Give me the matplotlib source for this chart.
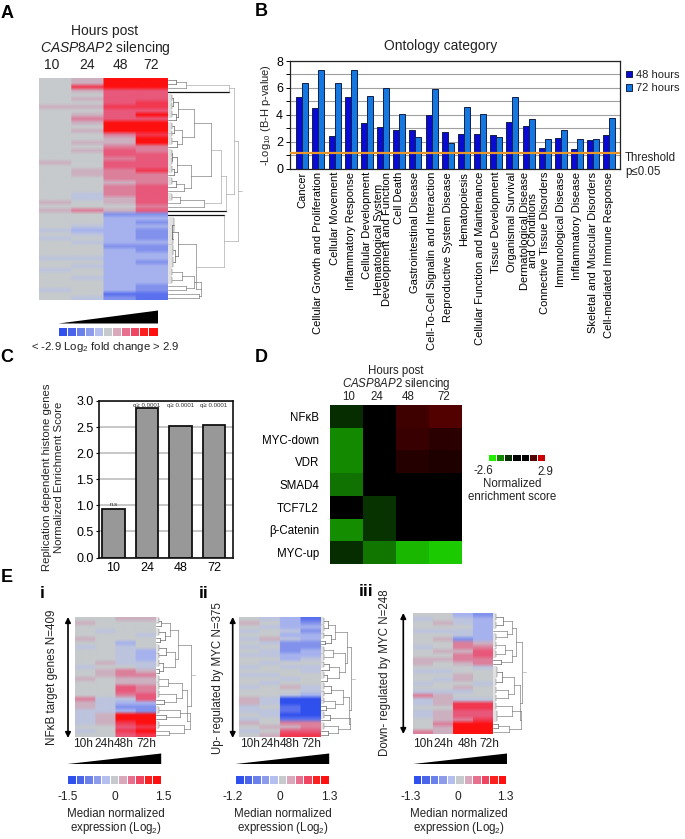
import numpy as np
import matplotlib
matplotlib.use('Agg')
import matplotlib.pyplot as plt
from matplotlib.colors import ListedColormap, LinearSegmentedColormap, TwoSlopeNorm

plt.rcParams['font.family'] = ['Liberation Sans', 'DejaVu Sans']
plt.rcParams['mathtext.fontset'] = 'custom'
plt.rcParams['mathtext.rm'] = 'Liberation Sans'
plt.rcParams['mathtext.it'] = 'Liberation Sans:italic'
plt.rcParams['text.color'] = '#222222'

W, H = 685, 839

# colour levels, -5 (blue) to 5 (red): first the keys, then the softer heatmap cells
key_colors = ['#3050ee', '#4a64ea', '#6a80ea', '#8c9cea', '#b4bfee', '#c6cacc',
              '#d9a8ba', '#e8708f', '#f04560', '#fa2020', '#ff1010']
cell_colors = ['#3050ee', '#5a70ee', '#8292ec', '#a6b2ee', '#bcc4de', '#c6cacc',
               '#ccb0c0', '#dc7f9b', '#e8587a', '#f23850', '#fe1010']
levels = list(range(-5, 6))

# panel A rows
a10 = [0, 0, 0, 0, 0, 0, 0, 1, 0, 0,
       0, 0, 0, 0, 0, 0, 0, 0, 0, 0,
       0, 1, 0, 0, 0, 0, 0, 0, 0, 0,
       0, 1, 0, 1, 0, 0, 0, 0, -1, 0,
       -1, 0, 0, 0, 0, -1, 0, 0, -1, 0,
       0, 0, 0, -1, 0, 0]
a24 = [1, 1, 4, 1, 0, 1, 0, 1, 0, 1,
       2, 1, 0, 1, 0, 0, 1, 0, 1, 0,
       0, 0, 0, 1, 1, 0, 0, 0, 0, -1,
       -1, 0, 0, 2, 0, 0, 0, -1, -2, -1,
       0, -1, 0, 0, 0, -1, 0, -1, 0, 0,
       -1, 0, 0, 0, 0, -1]
a48 = [5, 5, 5, 3, 3, 3, 3, 4, 3, 3,
       3, 5, 5, 5, 2, 1, 1, 2, 3, 3,
       2, 3, 3, 2, 2, 2, 1, 2, 2, 2,
       1, 1, 0, 1, -3, -2, -2, -2, -2, -2,
       -2, -2, -3, -2, -2, -2, -2, -2, -2, -2,
       -2, -2, -2, -2, -4, -3]
a72 = [5, 5, 5, 3, 3, 3, 4, 4, 3, 5,
       3, 5, 5, 5, 4, 5, 5, 2, 2, 3,
       3, 3, 3, 4, 2, 2, 2, 3, 3, 3,
       3, 3, 2, 3, -3, -2, -3, -2, -3, -3,
       -3, -2, -3, -3, -2, -2, -3, -2, -2, -2,
       -2, -2, -3, -3, -4, -4]

# dendrograms: (height in px, child, child), a bare int is a leaf spanning that many rows
tree_a = (70,
          (66,
           (61, (18, (8, 1, 1), 1), 1),
           (58,
            (53,
             (43,
              (26, (10, (5, 2, 2), (8, 2, 1)), (14, (6, 2, 2), (9, 2, 1))),
              (23, (9, (4, 2, 2), (6, 2, 1)), (16, (8, 2, 1), 1))),
             (36, (12, 2, 1), 1)),
            1)),
          (56,
           1,
           (28,
            (10, (4, 4, 3), (7, 3, 3)),
            (33, (26, (14, 2, 2), (18, 1, 1)), (31, 1, 1)))))

# panel B
categories = ['Cancer', 'Cellular Growth and Proliferation', 'Cellular Movement',
              'Inflammatory Response', 'Cellular Development',
              'Hematological System\nDevelopment and Function', 'Cell Death',
              'Gastrointestinal Disease', 'Cell-To-Cell Signalin and Interaction',
              'Reproductive System Disease', 'Hematopoiesis',
              'Cellular Function and Maintenance', 'Tissue Development',
              'Organismal Survival', 'Dermatological Disease\nand Conditions',
              'Connective Tissue Disorders', 'Immunological Disease',
              'Inflammatory Disease', 'Skeletal and Muscular Disorders',
              'Cell-mediated Immune Response']
p48 = [5.3, 4.5, 2.45, 5.3, 3.4, 3.1, 2.85, 2.85, 3.95, 2.7,
       2.6, 2.6, 2.5, 3.45, 3.2, 1.55, 2.3, 1.45, 2.15, 2.5]
p72 = [6.4, 7.3, 6.4, 7.3, 5.4, 6.0, 4.05, 2.35, 5.9, 1.9,
       4.55, 4.05, 2.35, 5.3, 3.65, 2.2, 2.9, 2.2, 2.2, 3.75]
threshold = 1.15

# panel C
c_hours = ['10', '24', '48', '72']
c_scores = [0.93, 2.86, 2.52, 2.54]
c_notes = ['n.s', 'q≥ 0.0001', 'q≥ 0.0001', 'q≥ 0.0001']

# panel D
d_rows = ['NFκB', 'MYC-down', 'VDR', 'SMAD4', 'TCF7L2', 'β-Catenin', 'MYC-up']
d_scores = [[-0.5, 0, 0.9, 1.2],
            [-1.5, 0, 0.8, 0.6],
            [-1.5, 0, 0.5, 0.45],
            [-1.25, 0, 0, 0],
            [0, -0.55, 0, 0],
            [-1.55, -0.55, 0, 0],
            [-0.5, -1.3, -2.0, -2.2]]
d_key = [-2.6, -1.5, -0.5, 0, 0, 1.2, 2.9]

# panel E i
e1_10 = [0, 1, 0, 0, 0, 1, 0, -1, 0, 0, 0, 0, -1, 0, 0, 1, 0, 0, 0, 0, 2, 1, 1, -1, -1, -1, -1, 0, -1, 0]
e1_24 = [0, 0, 0, -1, 0, 0, 0, 0, 0, 0, 0, 1, 0, 1, 1, 0, 0, 0, 0, 0, -1, -1, -1, -1, 1, 1, 1, 0, 0, 0]
e1_48 = [1, 0, 0, 0, 0, 0, -2, -1, -1, -1, -1, -1, 0, 2, 2, 1, 1, 3, 3, 2, -1, -2, -3, -2, 5, 5, 4, 3, 4, 3]
e1_72 = [1, 0, 0, 0, -1, 0, 0, 0, -2, -2, -2, -1, -1, 1, 2, 1, 1, 2, 2, 3, 3, -2, -3, -3, 5, 5, 5, 4, 5, 4]
tree_e1 = (35,
           (22,
            (14, (5, 2, 1), (9, 2, (4, 1, 1))),
            (19, (10, 2, 2), (7, 2, (3, 1, 1)))),
           (31,
            (26, (12, 2, 2), (20, 2, (8, 1, 1))),
            (34, (24, 2, (10, 1, 1)), (28, 2, (13, 1, 1)))))

# panel E ii
e2_10 = [0, 1, 0, -1, 0, -1, 0, -1, 0, -1, 0, 0, -1, 0, -1, 0, 0, -1, 0, 0, 1, 1, -1, -1, 0, -1, 1, 0, -1, 0]
e2_24 = [-1, 0, -1, 0, 0, 1, -1, 0, -1, -1, 0, -1, 0, 0, -1, 0, -1, 0, 0, 0, -1, -1, 0, -1, -1, 0, 0, 1, 0, 1]
e2_48 = [-2, -2, -2, -1, -2, -1, -3, -3, -3, -2, -2, 0, -1, 0, 0, -1, 0, 1, 0, -1, -5, -5, -4, -4, -5, -4, 2, 1, 3, 4]
e2_72 = [-4, -3, -2, -3, -2, -2, -3, -3, -2, -2, -1, 0, -1, -1, 0, 0, 0, -1, -1, -2, -5, -5, -5, -5, -5, -4, 2, 2, 3, 4]
tree_e2 = (30,
           (26,
            (14, (7, 2, 2), (10, 2, (4, 1, 1))),
            (24, (12, 2, 2), (18, (8, 2, 1), (6, 2, 1)))),
           (28,
            (22, (10, 2, 2), (14, 2, (5, 1, 1))),
            (29, (9, 2, 1), (17, 2, (7, 1, 1)))))

# panel E iii
e3_10 = [0, -1, 0, 0, -1, 0, 0, 0, -1, 0, 0, 1, 1, 0, -1, 0, 0, -1, 0, -1, 2, -1, -1, 0, -1, -1, 0, 0, 0, 2]
e3_24 = [0, 0, 1, 0, -1, 0, 1, 0, 0, 1, 0, 1, 0, 0, -1, 0, -1, 0, 0, -1, 1, 1, 1, 0, 1, 1, 1, 2, 1, 1]
e3_48 = [-2, -1, -1, 0, -1, -1, -3, 2, 2, 1, 2, 2, 1, 0, 0, 1, 1, 0, 1, -1, 0, -1, 4, 4, 3, 3, 2, 5, 5, 5]
e3_72 = [-3, -2, -2, -2, -2, -2, -2, 1, 2, 3, 3, 2, 2, -1, 0, 0, 0, -1, 0, 0, 0, -1, 4, 4, 3, 3, 4, 5, 5, 5]
tree_e3 = (29,
           (23,
            (19, (10, 2, 2), (14, 1, 2)),
            (19, (12, 2, 2), (8, 1, 1))),
           (27,
            (21, (9, 3, 2), (15, 2, 2)),
            (28, (19, 2, 3), (16, (5, 1, 1), 1))))


def ax_px(x0, y0, x1, y1):
    # axes placed by pixel box, y measured from the top
    return fig.add_axes([x0 / W, 1 - y1 / H, (x1 - x0) / W, (y1 - y0) / H])


def label(x, y, s, size=9, **kw):
    kw.setdefault('ha', 'center')
    kw.setdefault('va', 'center')
    page.text(x, y, s, fontsize=size, **kw)


def draw_tree(ax, node, start):
    # returns centre row, height and the next free row
    if isinstance(node, int):
        if node == 1:
            return start + 0.5, 0, start + 1
        # a fine rake of short stubs stands in for the single genes
        tip = 1.5 + node
        stubs = np.arange(start + 0.25, start + node, 0.5)
        ax.hlines(stubs, 0, tip, color='#555555', lw=0.25)
        ax.vlines(tip, stubs[0], stubs[-1], color='#555555', lw=0.3)
        return start + node / 2, tip, start + node
    h, left, right = node
    c1, h1, next_row = draw_tree(ax, left, start)
    c2, h2, next_row = draw_tree(ax, right, next_row)
    col = '#444444' if h < 12 else ('#666666' if h < 45 else '#999999')
    for child, c, hc in [(left, c1, h1), (right, c2, h2)]:
        if child == 1 and h >= 50:
            ax.plot([hc, h], [c, c], color='#111111', lw=0.9)
        else:
            ax.plot([hc, h], [c, c], color=col, lw=0.4)
    ax.plot([h, h], [c1, c2], color=col, lw=0.4)
    return (c1 + c2) / 2, h, next_row


def heatmap(box, columns, tree=None, tree_w=0):
    x0, y0, x1, y1 = box
    ax = ax_px(x0, y0, x1, y1)
    # repeated sideways so only the rows blur into each other
    cells = np.repeat(np.array(columns).T, 24, axis=1)
    ax.imshow(cells, cmap=cell_cmap, vmin=-5.5, vmax=5.5, aspect='auto',
              interpolation='bilinear', interpolation_stage='rgba')
    ax.axis('off')
    if tree is not None:
        tx = ax_px(x1, y0, x1 + tree_w, y1)
        centre, h, rows = draw_tree(tx, tree, 0)
        tx.plot([h, h + 4], [centre, centre], color='#999999', lw=0.4)
        tx.set_xlim(0, tree_w)
        tx.set_ylim(rows, 0)
        tx.axis('off')


def key(x0, x1, y_tri, y_bar):
    tri = ax_px(x0, y_tri[0], x1, y_tri[1])
    tri.fill_between([0, 1], [0, 0], [0, 1], color='black', lw=0)
    tri.set_xlim(0, 1)
    tri.set_ylim(0, 1)
    tri.axis('off')
    bar = ax_px(x0, y_bar[0], x1, y_bar[1])
    bar.pcolormesh(np.arange(12), [0, 1], [levels], cmap=key_cmap, vmin=-5.5, vmax=5.5,
                   edgecolors='white', linewidth=0.7)
    bar.axis('off')


key_cmap = ListedColormap(key_colors)
cell_cmap = ListedColormap(cell_colors)

fig = plt.figure(figsize=(W / 100, H / 100), dpi=100)
page = fig.add_axes([0, 0, 1, 1])
page.set_xlim(0, W)
page.set_ylim(H, 0)
page.axis('off')

# panel letters
for x, y, s in [(7, 13, 'A'), (261, 12, 'B'), (7, 358, 'C'), (261, 357, 'D'), (7, 578, 'E')]:
    label(x, y, s, size=13, fontweight='bold', color='black')
for x, y, s in [(42, 593, 'i'), (204, 593, 'ii'), (366, 591, 'iii')]:
    label(x, y, s, size=12.5, fontweight='bold', color='black')

# A
label(105, 31, 'Hours post', size=10)
label(105, 48, r'$\mathit{CASP8AP2}$ silencing', size=10)
for x, s in zip([52, 87, 120, 151], c_hours):
    label(x, 65, s, size=10)
heatmap((39, 78, 168, 300), [a10, a24, a48, a72], tree_a, 76)
key(58, 157.5, (310, 323), (327, 336))
label(105, 347, r'< -2.9 Log$_2$ fold change > 2.9', size=8.2)

# B
ax = ax_px(290, 61, 619.5, 168.5)
x = np.arange(len(categories))
ax.set_axisbelow(True)
ax.bar(x - 0.185, p48, 0.37, color='#0a0ad2', edgecolor='#10204a', lw=0.7, zorder=2, label='48 hours')
ax.bar(x + 0.185, p72, 0.37, color='#1478e0', edgecolor='#10204a', lw=0.7, zorder=2, label='72 hours')
ax.axhline(threshold, color='#e8962a', lw=1.6, zorder=3)
ax.set_xlim(-0.76, 19.62)
ax.set_ylim(0, 8)
ax.set_yticks(range(0, 9))
ax.set_yticklabels(['0', '', '2', '', '4', '', '6', '', '8'], fontsize=9)
ax.yaxis.grid(True, color='#a0a0a0', lw=0.8)
ax.set_xticks(x)
ax.set_xticklabels(categories, rotation=90, fontsize=8, linespacing=0.72, va='top', ha='center')
ax.tick_params(axis='x', length=0, pad=2.5)
ax.tick_params(axis='y', length=3, pad=2, width=0.7)
for side in ax.spines.values():
    side.set_linewidth(0.9)
    side.set_color('#222222')
label(266.5, 115, r'-Log$_{10}$ (B-H p-value)', size=8, rotation=90)
label(440.5, 46, 'Ontology category', size=10)
ax.legend(loc='upper left', bbox_to_anchor=(1.0, 0.98), frameon=False, fontsize=8,
          handlelength=0.55, handleheight=0.55, handletextpad=0.35, labelspacing=0.3,
          borderpad=0.4, borderaxespad=0.2)
label(625, 158, 'Threshold', size=8.3, ha='left')
label(625, 172, 'p≤0.05', size=8.3, ha='left')

# C
ax = ax_px(99, 401, 233, 557.5)
ax.set_axisbelow(True)
ax.bar(range(4), c_scores, 0.68, color='#989898', edgecolor='#111111', lw=1.3)
ax.set_xlim(-0.43, 3.57)
ax.set_ylim(0, 3)
ax.set_xticks(range(4))
ax.set_xticklabels(c_hours, fontsize=9)
ax.set_yticks(np.arange(0, 3.5, 0.5))
ax.set_yticklabels(['0.0', '0.5', '1.0', '1.5', '2.0', '2.5', '3.0'], fontsize=9)
ax.yaxis.grid(True, color='#bdbdbd', lw=1.2)
ax.tick_params(axis='x', length=0, pad=3)
ax.tick_params(axis='y', length=2.5, pad=1.5)
for side in ax.spines.values():
    side.set_linewidth(1.2)
    side.set_color('#111111')
for i, s in enumerate(c_notes):
    ax.text(i, 0.96 if i == 0 else 2.87, s, fontsize=4.4, ha='center', va='bottom', color='#333333')
label(47, 477, 'Replication dependent histone genes', size=8.2, rotation=90)
label(59.5, 477, 'Normalized Enrichment Score', size=8.2, rotation=90)

# D
green_black_red = LinearSegmentedColormap.from_list('gbr', ['#22ee00', '#000000', '#cc0000'])
d_norm = TwoSlopeNorm(vcenter=0, vmin=-2.6, vmax=2.9)
ax = ax_px(330, 405, 461.7, 564)
ax.imshow(d_scores, cmap=green_black_red, norm=d_norm, aspect='auto', interpolation='nearest')
ax.set_xticks([])
ax.set_yticks(range(len(d_rows)))
ax.set_yticklabels(d_rows, fontsize=8.3)
ax.tick_params(axis='y', length=0, pad=8)
for side in ax.spines.values():
    side.set_visible(False)
label(396, 371, 'Hours post', size=8.3)
label(396, 384.5, r'$\mathit{CASP8AP2}$ silencing', size=8.3)
for xp, s in zip([349, 377, 408, 444], c_hours):
    label(xp, 397.5, s, size=8.3)
ax = ax_px(488, 454, 545, 461.5)
ax.pcolormesh(np.arange(8), [0, 1], [d_key], cmap=green_black_red, norm=d_norm,
              edgecolors='white', linewidth=0.7)
ax.axis('off')
label(483, 471, '-2.6', size=8.3)
label(545.5, 472, '2.9', size=8.3)
label(512, 484, 'Normalized', size=8.3)
label(512, 497.5, 'enrichment score', size=8.3)

# E i, ii, iii
heatmap((75, 616.7, 155.7, 736.7), [e1_10, e1_24, e1_48, e1_72], tree_e1, 40)
heatmap((239.3, 617.3, 320.7, 736.7), [e2_10, e2_24, e2_48, e2_72], tree_e2, 35)
heatmap((412.7, 613.3, 492.7, 734), [e3_10, e3_24, e3_48, e3_72], tree_e3, 34)
for xp, y0, y1 in [(68, 617, 738), (232.7, 617, 738), (403.3, 613, 734)]:
    page.annotate('', xy=(xp, y0), xytext=(xp, y1),
                  arrowprops=dict(arrowstyle='<|-|>', color='black', lw=1.2, mutation_scale=8,
                                  shrinkA=0, shrinkB=0))
label(52, 677, 'NFκB target genes N=409', size=8.4, rotation=90)
label(218, 678, 'Up- regulated by MYC N=375', size=8.3, rotation=90)
label(385, 673, 'Down- regulated by MYC N=248', size=8.3, rotation=90)
for xs in [[83, 104, 124, 146], [250, 270, 290, 311.7], [422.7, 443, 467.7, 489]]:
    for xp, s in zip(xs, c_hours):
        label(xp, 744, s + 'h', size=8.6)
key(67, 160.7, (753, 763.5), (775, 784))
key(235, 328.7, (753, 763.5), (775, 784))
key(412.7, 506.5, (753, 763.5), (775, 784))
for xs, names, xc in [([68, 115, 163], ['-1.5', '0', '1.5'], 116),
                      ([233, 280, 329], ['-1.2', '0', '1.3'], 282.7),
                      ([411, 457.7, 505.7], ['-1.3', '0', '1.3'], 459)]:
    for xp, s in zip(xs, names):
        label(xp, 797, s, size=8.6)
    label(xc, 814, 'Median normalized', size=8.3)
    label(xc, 828, r'expression (Log$_2$)', size=8.3)

fig.savefig('out.png', dpi=100)
